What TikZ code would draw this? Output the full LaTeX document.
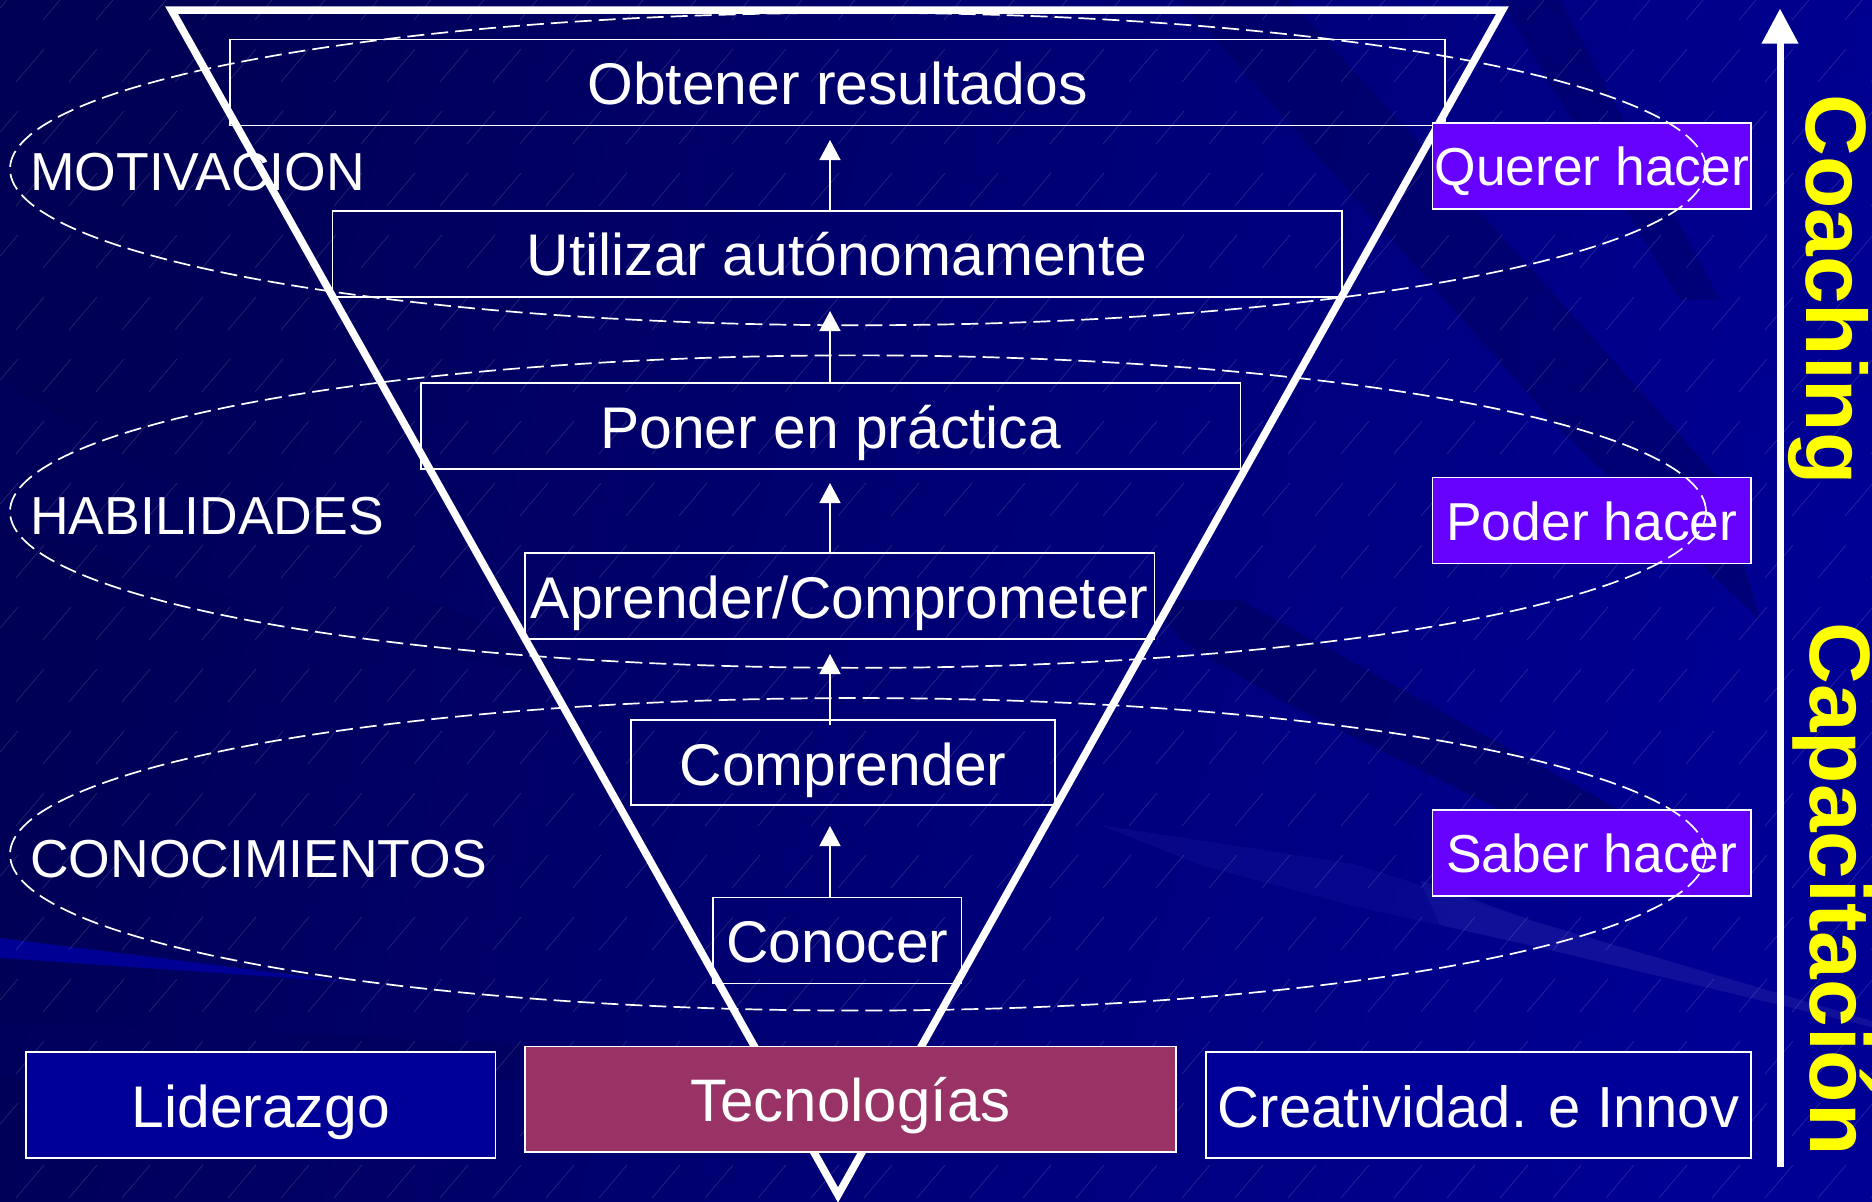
\documentclass[tikz,border=0pt]{standalone}
\usepackage{fontspec}
\setmainfont{Liberation Sans}
\usetikzlibrary{arrows.meta,shapes.geometric,calc}
\definecolor{bgdark}{HTML}{000055}
\definecolor{bgmid}{HTML}{00007E}
\definecolor{bglight}{HTML}{000094}
\definecolor{streakdark}{HTML}{00005E}
\definecolor{streaklight}{HTML}{1A1AA0}
\definecolor{purplebox}{HTML}{6600FF}
\definecolor{rosebox}{HTML}{993366}
\definecolor{bluebox}{HTML}{000099}
\definecolor{titleyellow}{HTML}{FFFF00}
\tikzset{
  stagebox/.style={draw=white,line width=1.6pt,inner sep=0pt,text=white,font=\fontsize{58.8}{60}\selectfont},
  sidebox/.style={stagebox,fill=purplebox,font=\fontsize{53.4}{55}\selectfont},
  basebox/.style={stagebox,fill=bluebox},
  techbox/.style={stagebox,fill=rosebox,font=\fontsize{60}{62}\selectfont},
  zone/.style={ellipse,draw=white,line width=1.7pt,dash pattern=on 17pt off 7pt,inner sep=0pt,minimum width=1696pt,minimum height=312.5pt},
  zonelabel/.style={anchor=base west,inner sep=0pt,text=white,font=\fontsize{53.5}{56}\selectfont},
  flow/.style={draw=white,line width=1.5pt,-{Triangle[length=20pt,width=21pt]}},
  bigflow/.style={draw=white,line width=7pt,-{Triangle[length=35pt,width=35pt]}},
  funnel/.style={draw=white,line width=7.5pt},
  vertical/.style={anchor=base west,rotate=-90,inner sep=0pt,text=titleyellow,font=\fontsize{85.7}{88}\selectfont\bfseries},
  hatch/.style={draw=white,line width=.6pt,opacity=.16}
}
\begin{document}
\begin{tikzpicture}[x=1pt,y=-1pt]
\path[use as bounding box,clip] (0,0) rectangle (1872,1202);
% background
\shade[left color=bgdark,middle color=bgmid,right color=bglight,shading angle=75] (0,0) rectangle (1872,1202);
\fill[streakdark,opacity=.5] (1180,0)--(1290,0)--(1720,480)--(1760,620)--(1560,430)--cycle;
\fill[streakdark,opacity=.45] (1500,0)--(1560,0)--(1720,300)--(1680,300)--cycle;
\fill[streakdark,opacity=.6] (1150,600)--(1240,600)--(1620,810)--(1700,880)--(1500,810)--(1280,700)--(1180,640)--cycle;
\fill[streakdark,opacity=.7] (0,380)--(180,490)--(520,640)--(560,680)--(300,620)--(0,520)--cycle;
\fill[streakdark,opacity=.8] (0,1022)--(520,1044)--(520,1080)--(0,1078)--cycle;
\fill[bglight] (0,938)--(350,982)--(0,958)--cycle;
\fill[streaklight,opacity=.3] (1100,825)--(1354,864)--(1533,921)--(1872,1021)--(1872,1027)--(1533,946)--(1354,906)--(1200,865)--cycle;
\fill[streaklight,opacity=.5] (1420,880)--(1533,921)--(1872,1021)--(1872,1027)--(1533,946)--(1440,925)--cycle;
\foreach \r in {0,...,20}{
  \foreach \c in {0,...,36}{
    \pgfmathsetmacro{\hx}{\c*53+mod(\r,2)*26-10}
    \pgfmathsetmacro{\hy}{\r*62+20}
    \draw[hatch] (\hx,\hy) -- ++(28,-33);
  }
}
% funnel
\coordinate (fa) at (171.5,10);
\coordinate (fb) at (1502.5,10);
\coordinate (fc) at (838,1195);
\draw[funnel] (fa) -- (fb) -- (fc) -- cycle;
% stage boxes
\node[stagebox,minimum width=1215pt,text height=64.7pt,text depth=21.1pt] (obtener) at (837.5,82.5) {Obtener resultados};
\node[stagebox,minimum width=1009.5pt,text height=64.8pt,text depth=21.2pt] (utilizar) at (837.2,254) {Utilizar autónomamente};
\node[stagebox,minimum width=819.5pt,text height=65.3pt,text depth=20.9pt] (poner) at (830.7,425.8) {Poner en práctica};
\node[stagebox,minimum width=629.5pt,text height=65pt,text depth=21pt] (aprender) at (839.7,596.2) {Aprender/Comprometer};
\node[stagebox,minimum width=424pt,text height=65.4pt,text depth=20pt] (comprender) at (843,762.5) {Comprender};
\node[stagebox,minimum width=248.7pt,text height=64.7pt,text depth=21.3pt] (conocer) at (837.3,940.4) {Conocer};
% base boxes
\node[basebox,minimum width=469.5pt,text height=75.3pt,text depth=30.3pt] (liderazgo) at (260.7,1104.9) {Liderazgo};
\node[techbox,minimum width=651pt,text height=75.6pt,text depth=29.9pt] (tecno) at (850.5,1099.1) {Tecnologías};
\node[basebox,minimum width=545pt,text height=75.3pt,text depth=30.3pt,font=\fontsize{58}{60}\selectfont] (creatividad) at (1478.5,1104.9) {Creatividad. e Innov};
% side boxes
\node[sidebox,minimum width=318.3pt,text height=62.6pt,text depth=23.4pt] (querer) at (1591.8,166) {Querer hacer};
\node[sidebox,minimum width=318.3pt,text height=62.6pt,text depth=23.4pt] (poder) at (1591.8,520.6) {Poder hacer};
\node[sidebox,minimum width=318.3pt,text height=62.9pt,text depth=23.2pt] (saber) at (1591.8,852.8) {Saber hacer};
% zones
\node[zone] (zmot) at (858,169) {};
\node[zone] (zhab) at (858,511.6) {};
\node[zone] (zcon) at (858,854.3) {};
\node[zonelabel] (lmot) at (30,190) {MOTIVACION};
\node[zonelabel] (lhab) at (30,534) {HABILIDADES};
\node[zonelabel] (lcon) at (30,877) {CONOCIMIENTOS};
% flows
\coordinate (ax) at (830,0);
\coordinate (t1) at (830,140);
\coordinate (t2) at (830,311);
\coordinate (t3) at (830,483);
\coordinate (t4) at (830,654);
\coordinate (t5) at (830,826);
\draw[flow] (ax |- utilizar.north) -- (t1);
\draw[flow] (ax |- poner.north) -- (t2);
\draw[flow] (ax |- aprender.north) -- (t3);
\draw[flow] ([yshift=-6.4pt]ax |- comprender.north) -- (t4);
\draw[flow] (ax |- conocer.north) -- (t5);
% side arrow
\coordinate (bigbase) at (1780,1167);
\coordinate (bigtip) at (1780,8.5);
\draw[bigflow] (bigbase) -- (bigtip);
\node[vertical] (coaching) at (1806.5,94) {Coaching};
\node[vertical] (capacitacion) at (1810.5,622) {Capacitación};
\end{tikzpicture}
\end{document}
